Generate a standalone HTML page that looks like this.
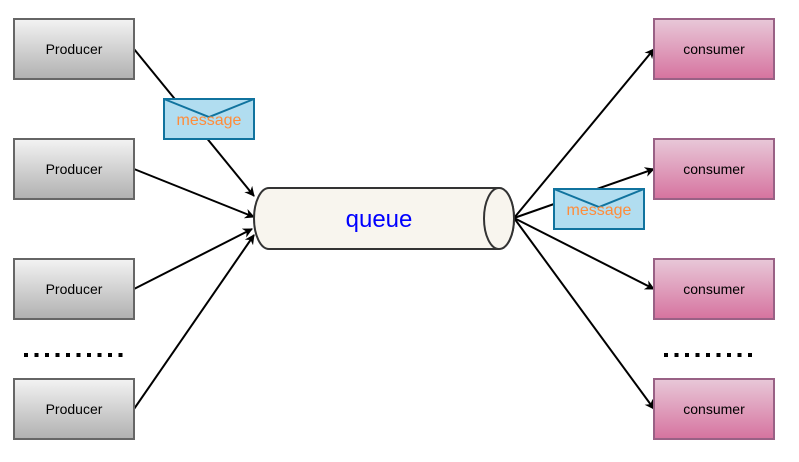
<!DOCTYPE html>
<html><head><meta charset="utf-8"><style>body{margin:0;background:#fff}svg{display:block}</style></head><body>
<svg width="799" height="462" viewBox="0 0 799 462" xmlns="http://www.w3.org/2000/svg" font-family="Liberation Sans, Arial, sans-serif">
<defs>
<linearGradient id="g" x1="0" y1="0" x2="0" y2="1"><stop offset="0" stop-color="#f3f3f3"/><stop offset="1" stop-color="#b0b0b0"/></linearGradient>
<linearGradient id="p" x1="0" y1="0" x2="0" y2="1"><stop offset="0" stop-color="#e8c8d8"/><stop offset="1" stop-color="#d6739f"/></linearGradient>
<marker id="a" markerWidth="10" markerHeight="10" refX="9" refY="5" orient="auto" markerUnits="userSpaceOnUse"><path d="M0,0 L10,5 L0,10 L3,5 Z" fill="#000"/></marker>
</defs>
<g stroke="#000" stroke-width="2" fill="none" marker-end="url(#a)">
<line x1="134" y1="49" x2="254" y2="196"/>
<line x1="134" y1="169" x2="254" y2="217"/>
<line x1="134" y1="289" x2="252" y2="229"/>
<line x1="134" y1="409" x2="254" y2="235"/>
<line x1="514" y1="218" x2="654" y2="49"/>
<line x1="514" y1="218" x2="654" y2="169"/>
<line x1="514" y1="218" x2="654" y2="289"/>
<line x1="514" y1="218" x2="654" y2="409"/>
</g>
<g stroke="#666" stroke-width="2" fill="url(#g)">
<rect x="14" y="19" width="120" height="60"/><rect x="14" y="139" width="120" height="60"/>
<rect x="14" y="259" width="120" height="60"/><rect x="14" y="379" width="120" height="60"/>
</g>
<g stroke="#996185" stroke-width="2" fill="url(#p)">
<rect x="654" y="19" width="120" height="60"/><rect x="654" y="139" width="120" height="60"/>
<rect x="654" y="259" width="120" height="60"/><rect x="654" y="379" width="120" height="60"/>
</g>
<g font-size="14" text-anchor="middle" fill="#000">
<text x="74" y="54">Producer</text><text x="74" y="174">Producer</text><text x="74" y="294">Producer</text><text x="74" y="414">Producer</text>
<text x="714" y="54">consumer</text><text x="714" y="174">consumer</text><text x="714" y="294">consumer</text><text x="714" y="414">consumer</text>
</g>
<line x1="24" y1="355" x2="128" y2="355" stroke="#000" stroke-width="4" stroke-dasharray="4,6.5"/>
<line x1="664" y1="355" x2="758" y2="355" stroke="#000" stroke-width="4" stroke-dasharray="4,6.5"/>
<path d="M269,188 L499,188 A15,30.5 0 0 1 499,249 L269,249 A15,30.5 0 0 1 269,188 Z" fill="#f8f5ee" stroke="#333" stroke-width="2"/>
<ellipse cx="499" cy="218.5" rx="15" ry="30.5" fill="#f8f5ee" stroke="#333" stroke-width="2"/>
<text x="379" y="227" font-size="24" fill="#0000ff" text-anchor="middle">queue</text>
<g stroke="#10739e" stroke-width="2" fill="#b1ddf0">
<rect x="164" y="99" width="90" height="40"/><path d="M164,99 L209,117 L254,99" fill="none"/>
<rect x="554" y="189" width="90" height="40"/><path d="M554,189 L599,207 L644,189" fill="none"/>
</g>
<g font-size="16" fill="#ff8c3a" text-anchor="middle">
<text x="209" y="125">message</text><text x="599" y="215">message</text>
</g>
</svg>
</body></html>
